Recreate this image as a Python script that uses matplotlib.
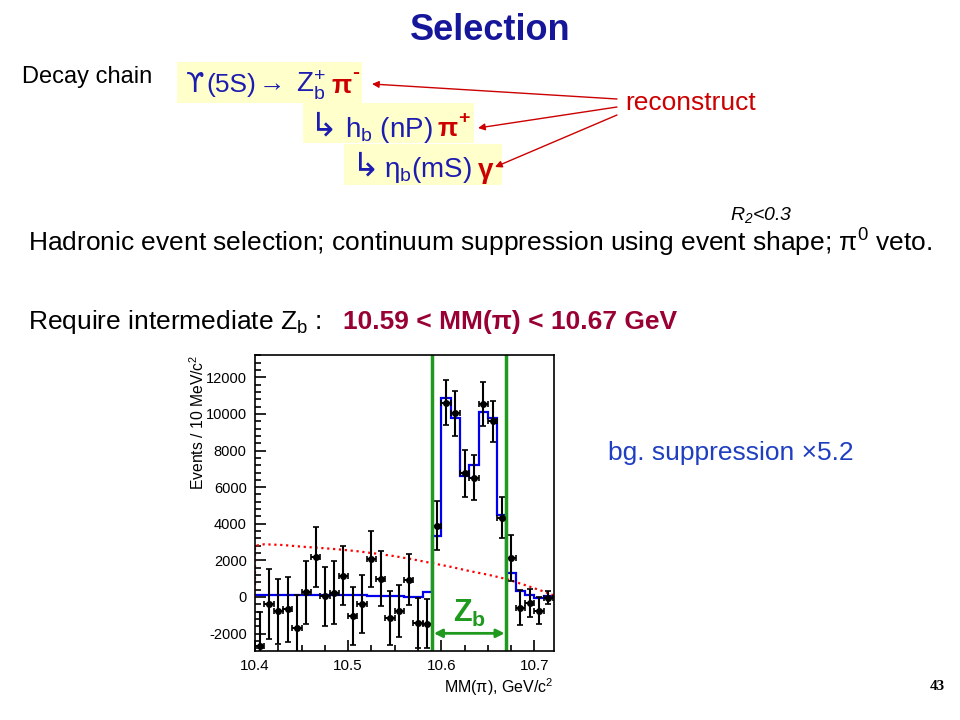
import numpy as np
import matplotlib
matplotlib.use('Agg')
import matplotlib.pyplot as plt
from matplotlib.patches import Rectangle
from matplotlib.ticker import MultipleLocator

plt.rcParams['font.family'] = ['Liberation Sans', 'DejaVu Sans']
plt.rcParams['mathtext.fontset'] = 'custom'
plt.rcParams['mathtext.rm'] = 'Liberation Sans'
plt.rcParams['mathtext.it'] = 'Liberation Sans:italic'
plt.rcParams['mathtext.bf'] = 'Liberation Sans:bold'
plt.rcParams['axes.unicode_minus'] = False

# --- data ---
# bin edges of the MM(pi) histogram, GeV/c^2
bin_edges = [10.40, 10.41, 10.42, 10.43, 10.44, 10.45, 10.46, 10.47, 10.48, 10.49,
             10.50, 10.51, 10.52, 10.53, 10.54, 10.55, 10.56, 10.57, 10.58, 10.59,
             10.60, 10.61, 10.62, 10.63, 10.64, 10.65, 10.66, 10.67, 10.68, 10.69,
             10.70, 10.71, 10.72]
bin_centers = [10.405, 10.415, 10.425, 10.435, 10.445, 10.455, 10.465, 10.475,
               10.485, 10.495, 10.505, 10.515, 10.525, 10.535, 10.545, 10.555,
               10.565, 10.575, 10.585, 10.595, 10.605, 10.615, 10.625, 10.635,
               10.645, 10.655, 10.665, 10.675, 10.685, 10.695, 10.705, 10.715]
# data points (events / 10 MeV) and their errors
events = [-2700, -370, -770, -680, -1680, 250, 2190, 40, 240, 1170, -1040, -370,
          2080, 990, -1150, -770, 950, -1420, -1460, 3890, 10620, 10030, 6750, 6510,
          10540, 9590, 4320, 2130, -580, -330, -750, -40]
events_err = [1900, 1900, 1780, 1790, 1800, 1740, 1620, 1620, 1730, 1620, 1570, 1570,
              1530, 1500, 1460, 1440, 1410, 1350, 1350, 1340, 1250, 1250, 1280, 1220,
              1190, 1140, 1120, 1230, 950, 770, 730, 350]
# fit histogram (blue)
fit_vals = [110, 110, 110, 110, 110, 110, 110, 110, 100, 100, 100, 90, 80, 70, 60, 40,
            0, -20, 250, 3350, 10850, 9800, 6600, 7200, 10100, 9800, 4500, 1300, 350,
            100, -60, 30]
# continuum shape (red dotted)
bg_x = [10.400, 10.400, 10.41, 10.43, 10.45, 10.47, 10.49, 10.51, 10.53, 10.55,
        10.57, 10.59, 10.61, 10.63, 10.65, 10.67, 10.69, 10.71, 10.72]
bg_y = [0, 2800, 2880, 2840, 2750, 2680, 2600, 2500, 2370, 2230, 2050, 1850, 1650,
        1420, 1220, 980, 650, 300, 100]
# Zb window
zb_lo, zb_hi = 10.59, 10.67

navy = '#16169a'
chain_blue = '#1c1cb0'
red = '#cc0000'
green = '#1f9a1f'

fig = plt.figure(figsize=(9.6, 7.2), dpi=100)

# slide overlay in pixel coordinates
ov = fig.add_axes([0, 0, 1, 1])
ov.set_xlim(0, 960)
ov.set_ylim(720, 0)
ov.axis('off')

ov.text(490, 30, 'Selection', ha='center', va='center', fontsize=26,
        fontweight='bold', color=navy)
ov.text(22, 77, 'Decay chain', ha='left', va='center', fontsize=17)

# decay chain boxes
for (x0, y0, x1, y1) in [(177, 62, 362, 103), (303, 103, 474, 143), (344, 144, 502, 185)]:
    ov.add_patch(Rectangle((x0, y0), x1 - x0, y1 - y0, color='#ffffcc', lw=0))

ov.text(186, 85, 'ϒ', ha='left', va='center', fontsize=19, color=chain_blue,
        family='DejaVu Sans')
ov.text(206, 85, '(5S)', ha='left', va='center', fontsize=19, color=chain_blue)
ov.text(259, 84, '→', ha='left', va='center', fontsize=19, color=chain_blue)
ov.text(296, 85, r'Z$_\mathregular{b}^\mathregular{+}$', ha='left', va='center',
        fontsize=20, color=chain_blue)
ov.text(331, 86, 'π', ha='left', va='center', fontsize=19, color=red, fontweight='bold')
ov.text(352, 73, '-', ha='left', va='center', fontsize=15, color=red, fontweight='bold')

ov.text(309, 127, '↳', ha='left', va='center', fontsize=24, color=chain_blue)
ov.text(345, 130, r'h$_\mathregular{b}$ (nP)', ha='left', va='center', fontsize=20,
        color=chain_blue)
ov.text(438, 129, 'π', ha='left', va='center', fontsize=19, color=red, fontweight='bold')
ov.text(458, 118, '+', ha='left', va='center', fontsize=14, color=red, fontweight='bold')

ov.text(351, 167, '↳', ha='left', va='center', fontsize=24, color=chain_blue)
ov.text(384, 170, r'η$_\mathregular{b}$(mS)', ha='left', va='center', fontsize=20,
        color=chain_blue)
ov.text(478, 171, 'γ', ha='left', va='center', fontsize=20, color=red,
        fontweight='bold')

ov.text(625, 103, 'reconstruct', ha='left', va='center', fontsize=19, color=red)
for (sx, sy, tx, ty) in [(617, 99, 372, 84), (617, 107, 478, 128), (617, 115, 495, 167)]:
    ov.annotate('', xy=(tx, ty), xytext=(sx, sy),
                arrowprops=dict(arrowstyle='-|>', color=red, lw=1.0,
                                mutation_scale=10, shrinkA=0, shrinkB=0))

ov.text(730, 215, r'$R_\mathregular{2}$<0.3', ha='left', va='center', fontsize=14,
        style='italic')
ov.text(28, 243, 'Hadronic event selection; continuum suppression using event shape; '
        r'π$^\mathregular{0}$ veto.', ha='left', va='center', fontsize=19)
ov.text(28, 322, r'Require intermediate Z$_\mathregular{b}$ :', ha='left', va='center',
        fontsize=19)
ov.text(343, 322, '10.59 < MM(π) < 10.67 GeV', ha='left', va='center', fontsize=19,
        fontweight='bold', color='#990033')
ov.text(608, 453, 'bg. suppression ×5.2', ha='left', va='center', fontsize=19,
        color='#1f3fc0')
ov.text(945, 686, '43', ha='right', va='center', fontsize=11, fontweight='bold',
        family='Liberation Serif')

# --- the histogram plot ---
ax = fig.add_axes([255 / 960, 1 - 651 / 720, (554 - 255) / 960, (651 - 355) / 720])
ax.plot(bg_x, bg_y, color='red', ls=':', lw=1.6)
ax.stairs(fit_vals, bin_edges, color='#0000ee', lw=1.6, baseline=None)
ax.errorbar(bin_centers, events, yerr=events_err, xerr=0.005, fmt='o', color='black',
            ms=4, elinewidth=1.5, capsize=2.5, capthick=1.2)

ax.axvline(zb_lo, color=green, lw=2.5)
ax.axvline(zb_hi, color=green, lw=2.5)
ax.annotate('', xy=(zb_lo + 0.002, -1985), xytext=(zb_hi - 0.002, -1985),
            arrowprops=dict(arrowstyle='<|-|>', color=green, lw=2, mutation_scale=12,
                            shrinkA=0, shrinkB=0))
ax.text(0.5 * (zb_lo + zb_hi), -900, r'Z$_\mathregular{b}$', ha='center', va='center',
        fontsize=22, fontweight='bold', color=green)

ax.set_xlim(10.4, 10.721)
ax.set_ylim(-2950, 13220)
ax.xaxis.set_major_locator(MultipleLocator(0.1))
ax.xaxis.set_minor_locator(MultipleLocator(0.025))
ax.yaxis.set_major_locator(MultipleLocator(2000))
ax.yaxis.set_minor_locator(MultipleLocator(400))
ax.tick_params(which='both', direction='in', width=1.2)
ax.tick_params(axis='y', labelsize=10.5, pad=6)
ax.tick_params(axis='x', labelsize=11, pad=6)
ax.tick_params(which='major', length=8)
ax.tick_params(which='minor', length=4)
ax.set_xticks([10.4, 10.5, 10.6, 10.7])
ax.set_xticklabels(['10.4', '10.5', '10.6', '10.7'])
for sp in ax.spines.values():
    sp.set_linewidth(1.2)
ax.set_ylabel(r'Events / 10 MeV/c$^\mathregular{2}$', loc='top', fontsize=11.3)
ax.yaxis.set_label_coords(-0.16, 1.0)
ax.set_xlabel(r'MM(π), GeV/c$^\mathregular{2}$', loc='right', fontsize=11.5, labelpad=2)

fig.savefig('out.png', dpi=100)
